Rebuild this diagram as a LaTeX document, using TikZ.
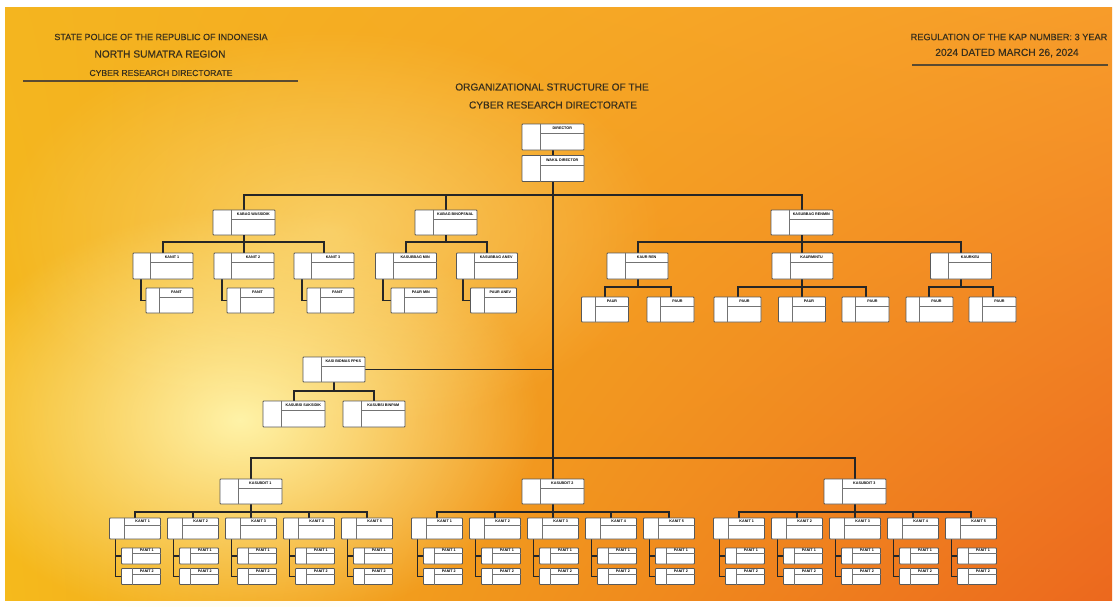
\documentclass[tikz,border=0pt]{standalone}
\usepackage{fontspec}
\setmainfont{Liberation Sans}
\usetikzlibrary{calc,fadings,shadings}

\definecolor{inkbrown}{HTML}{3A301C}
\definecolor{rulebrown}{HTML}{5A4A30}
\definecolor{glowyellow}{HTML}{FFF3A8}
\definecolor{bgul}{HTML}{F4B51F}
\definecolor{bgur}{HTML}{F79C2A}
\definecolor{bgll}{HTML}{F5BA1C}
\definecolor{bglr}{HTML}{EC681E}
\tikzfading[name=glowfade, inner color=transparent!0, outer color=transparent!100]

\tikzset{
  unitbox/.style={draw=black!65, fill=white, line width=0.9pt, rounded corners=0.8pt, inner sep=0pt},
  cellline/.style={draw=black!55, line width=0.6pt},
  tag/.style={font=\fontsize{3.7}{4}\selectfont\bfseries, inner sep=0pt, text=black},
  link/.style={draw=black!85, line width=1.2pt},
  head/.style={text=inkbrown, inner sep=0pt},
}

% unit box: name, position, width, height, label
\newcommand{\orgunit}[5]{%
  \node[unitbox, minimum width=#3, minimum height=#4] (#1) at (#2) {};
  \draw[cellline] ([xshift=0.3*#3]#1.north west) -- ([xshift=0.3*#3]#1.south west)
    ([xshift=0.3*#3, yshift=-0.38*#4]#1.north west) -- ([yshift=-0.38*#4]#1.north east);
  \node[tag] (#1-t) at ($([xshift=0.3*#3]#1.north west)!0.5!([yshift=-0.38*#4]#1.north east)$) {#5};
}
\newcommand{\headfont}[1]{\fontsize{#1}{#1}\selectfont\addfontfeatures{FakeBold=0.4}}

\begin{document}
\begin{tikzpicture}[x=1pt, y=-1pt]
  \useasboundingbox (0,0) rectangle (1117,606);
  % background
  \fill[white] (0,0) rectangle (1117,606);
  \shade[upper left=bgul, upper right=bgur, lower left=bgll, lower right=bglr]
    (5,7) rectangle (1112,600);
  \fill[glowyellow, path fading=glowfade] (240,420) ellipse (300pt and 210pt);
  \fill[glowyellow, opacity=0.5, path fading=glowfade] (330,230) ellipse (330pt and 200pt);

  % headers
  \node[head, font=\headfont{9}] (h1) at (161,37) {STATE POLICE OF THE REPUBLIC OF INDONESIA};
  \node[head, font=\headfont{10.2}] (h2) at (160,54) {NORTH SUMATRA REGION};
  \node[head, font=\headfont{8.6}] (h3) at (161,73) {CYBER RESEARCH DIRECTORATE};
  \draw[rulebrown, line width=1.3pt] (23,81) -- (298,81);
  \node[head, font=\headfont{9.2}] (r1) at (1009,37) {REGULATION OF THE KAP NUMBER: 3 YEAR};
  \node[head, font=\headfont{10.3}] (r2) at (1007,53) {2024 DATED MARCH 26, 2024};
  \draw[rulebrown, line width=1.3pt] (912,65) -- (1108,65);
  \node[head, font=\headfont{10.1}] (t1) at (552,87) {ORGANIZATIONAL STRUCTURE OF THE};
  \node[head, font=\headfont{10.1}] (t2) at (553,105) {CYBER RESEARCH DIRECTORATE};

  % bus points
  \coordinate (bus1) at (553,195);
  \coordinate (bus2) at (553,458);
  \coordinate (wb) at (244,242);
  \coordinate (bb) at (446,242);
  \coordinate (rb) at (802,242);
  \coordinate (kb) at (334,391);

  % connectors first, boxes on top
  \draw[link] (553,150) -- (553,480);
  \draw[link] (244,210) |- (bus1) -| (802,210);
  \draw[link] (446,210) -- (446,195);
  \draw[link] (365,369.5) -- (553,369.5);
  \draw[link] (251,479) |- (bus2) -| (855,479);

  % top
  \orgunit{dir}{553,137}{62pt}{26pt}{DIRECTOR}
  \orgunit{wadir}{553,168.5}{62pt}{26pt}{WAKIL DIRECTOR}

  % kabag wassidik
  \orgunit{kabag1}{244,222.5}{62pt}{25pt}{KABAG WASSIDIK}
  \draw[link] (kabag1.south) -- (wb);
  \draw[link] (163,253) |- (wb) -| (324,253);
  \foreach \n/\cx in {1/163,2/244,3/324} {
    \draw[link] (\cx,242) -- (\cx,253);
    \coordinate (wk\n) at (\cx-22,279);
    \draw[link] (wk\n) |- (\cx-1,300.5);
    \orgunit{kanitw\n}{\cx,266}{60pt}{26pt}{KANIT \n}
    \orgunit{panitw\n}{\cx+6.5,300.5}{47pt}{25pt}{PANIT}
  }

  % kabag binopsnal
  \orgunit{kabag2}{446,222.5}{62pt}{25pt}{KABAG BINOPSNAL}
  \draw[link] (kabag2.south) -- (bb);
  \draw[link] (406,253) |- (bb) -| (487,253);
  \draw[link] (383,279) |- (395,300.5);
  \draw[link] (463,279) |- (475,300.5);
  \orgunit{sbmin}{406,266}{61pt}{26pt}{KASUBBAG MIN}
  \orgunit{sbanev}{487,266}{61pt}{26pt}{KASUBBAG ANEV}
  \orgunit{paurmin}{414,300.5}{46pt}{25pt}{PAUR MIN}
  \orgunit{pauranev}{493.5,300.5}{46pt}{25pt}{PAUR ANEV}

  % kasubbag renmin
  \orgunit{kabag3}{802,222.5}{62pt}{25pt}{KASUBBAG RENMIN}
  \draw[link] (kabag3.south) -- (rb);
  \draw[link] (638,253) |- (rb) -| (961,253);
  \draw[link] (802,242) -- (802,253);
  \draw[link] (638,279) -- (638,287);
  \draw[link] (605,297) |- (671,287) -- (671,297);
  \draw[link] (802,279) -- (802,297);
  \draw[link] (738,297) |- (866,287) -- (866,297);
  \draw[link] (961,279) -- (961,287);
  \draw[link] (929,297) |- (993,287) -- (993,297);
  \orgunit{kaurren}{637.5,266}{61pt}{26pt}{KAUR REN}
  \orgunit{kaurmintu}{802.5,266}{61pt}{26pt}{KAURMINTU}
  \orgunit{kaurkeu}{961,266}{61pt}{26pt}{KAURKEU}
  \foreach \p/\px in {1/605,2/670.5,3/737.5,4/802,5/865.5,6/929.5,7/992.5}
    \orgunit{paur\p}{\px,309.5}{47pt}{25pt}{PAUR};

  % kasi
  \draw[link] (334,382) -- (kb);
  \draw[link] (294,401) |- (kb) -| (374,401);
  \orgunit{kasi}{334,369.5}{62pt}{25pt}{KASI BIDMAS PPKS}
  \orgunit{kasubsi1}{294,414}{62pt}{26pt}{KASUBSI SAKSIDIK}
  \orgunit{kasubsi2}{374,414}{62pt}{26pt}{KASUBSI BINPAM}

  % kasubdit groups
  \foreach \g/\gx in {1/251,2/553,3/855} {
    \coordinate (sb\g) at (\gx,512);
    \draw[link] (\gx,504) -- (sb\g);
    \draw[link] (\gx-116,518) |- (sb\g) -| (\gx+116,518);
    \orgunit{sd\g}{\gx,491.5}{62pt}{25pt}{KASUBDIT \g}
    \foreach \k in {1,...,5} {
      \pgfmathsetmacro\kx{\gx+58*(\k-3)}
      \draw[link] (\kx,512) -- (\kx,518);
      \coordinate (ks\g\k) at (\kx-19.5,539);
      \draw[link] (ks\g\k) |- (\kx,576.5);
      \draw[link] (\kx-19.5,556) -- (\kx,556);
      \orgunit{kn\g\k}{\kx,528.5}{51pt}{21pt}{KANIT \k}
      \orgunit{pa\g\k}{\kx+6,556}{39pt}{16pt}{PANIT 1}
      \orgunit{pb\g\k}{\kx+6,576.5}{39pt}{16pt}{PANIT 2}
    }
  }
\end{tikzpicture}
\end{document}
